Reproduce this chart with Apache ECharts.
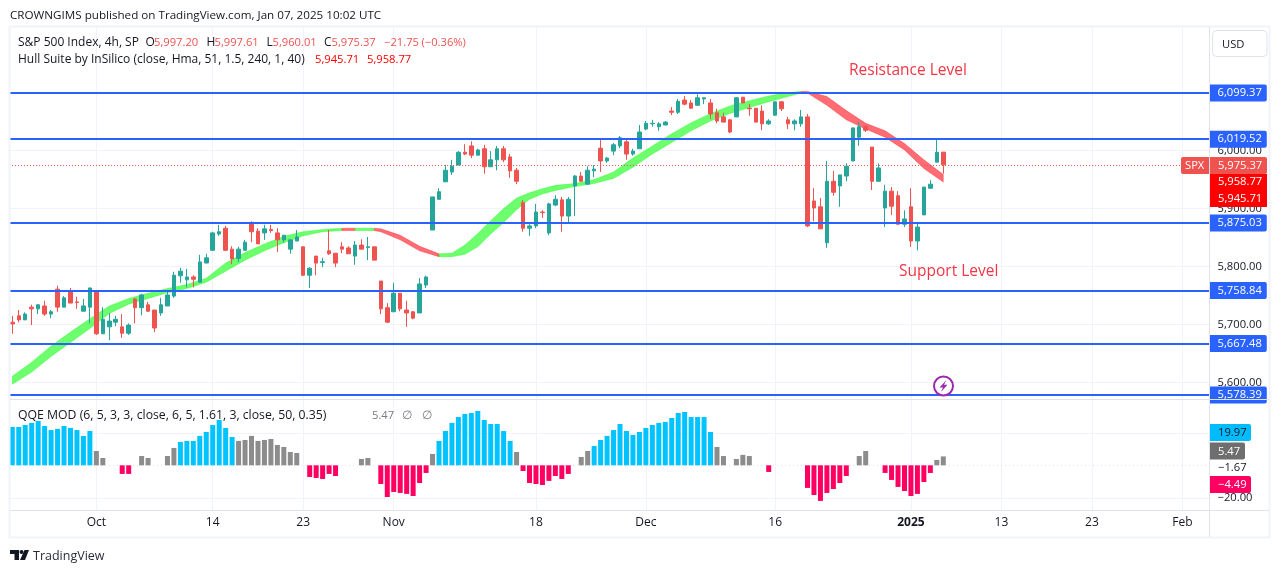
<!DOCTYPE html>
<html><head><meta charset="utf-8">
<script src="https://cdn.jsdelivr.net/npm/echarts@6/dist/echarts.min.js"></script>
<style>html,body{margin:0;padding:0;background:#fff}#c{width:1281px;height:573px}</style>
</head><body><div id="c"></div>
<script>
const open=[5704,5715,5708,5730,5727,5732,5718,5761,5730,5758,5739,5723,5730,5756,5684,5696,5704,5696,5685,5744,5729,5734,5725,5720,5732,5749,5784,5777,5782,5773,5806,5828,5856,5866,5830,5814,5828,5875,5861,5858,5864,5858,5846,5830,5844,5834,5785,5818,5807,5827,5823,5834,5832,5818,5837,5833,5834,5775,5729,5722,5754,5725,5722,5720,5768,5863,5916,5946,5963,5975,5997,6008,5992,6003,5972,5984,6003,5989,5966,5910,5866,5870,5894,5858,5906,5915,5887,5939,5956,5942,5965,6004,5982,5999,6008,6015,5994,6003,6037,6046,6041,6044,6068,6066,6087,6082,6078,6089,6082,6065,6058,6053,6058,6092,6073,6073,6068,6046,6061,6084,6053,6046,6046,6058,5913,5903,5841,5947,5939,5956,5982,6023,6041,6006,5947,5901,5930,5922,5873,5903,5844,5889,5935,5980,5997.2];
const high=[5715,5725,5721,5734,5735,5741,5725,5767,5749,5763,5748,5744,5764,5756,5730,5720,5715,5718,5702,5746,5753,5739,5725,5746,5759,5791,5798,5796,5785,5820,5822,5860,5872,5870,5835,5834,5846,5878,5866,5872,5872,5866,5854,5846,5863,5835,5799,5818,5815,5863,5823,5842,5835,5844,5847,5851,5834,5775,5737,5772,5754,5741,5723,5780,5784,5920,5935,5975,5984,5999,6011,6016,6003,6010,5999,6008,6008,5994,5970,5915,5873,5908,5897,5910,5923,5920,5920,5958,5963,5973,5975,6020,5989,6013,6025,6018,6003,6044,6051,6053,6049,6051,6075,6089,6094,6087,6097,6091,6089,6072,6065,6054,6092,6092,6080,6073,6078,6054,6084,6085,6058,6054,6070,6063,5935,5918,5982,5965,5958,5978,6039,6049,6044,6006,5978,5941,5937,5930,5897,5935,5875,5937,5949,6020,5997.61];
const low=[5684,5704,5708,5699,5718,5715,5711,5722,5730,5737,5727,5723,5702,5682,5684,5673,5697,5677,5682,5702,5716,5722,5687,5715,5732,5746,5772,5764,5764,5773,5806,5828,5853,5827,5804,5808,5828,5842,5839,5846,5858,5825,5841,5822,5844,5784,5763,5785,5799,5820,5799,5823,5822,5803,5830,5811,5811,5718,5703,5722,5723,5696,5709,5720,5763,5863,5915,5946,5958,5975,5992,5987,5992,5960,5972,5966,5980,5953,5942,5860,5853,5866,5884,5854,5904,5860,5875,5887,5947,5942,5954,5963,5979,5992,6004,5984,5991,6003,6035,6041,6034,6044,6061,6063,6078,6072,6078,6080,6054,6047,6049,6030,6058,6082,6060,6049,6035,6044,6060,6068,6037,6035,6041,5868,5878,5865,5832,5922,5903,5947,5982,6008,6032,5932,5947,5868,5889,5872,5868,5834,5828,5889,5934,5980,5960.01];
const close=[5701,5708,5718,5727,5734,5718,5722,5730,5746,5737,5738,5732,5763,5684,5709,5706,5709,5685,5699,5729,5751,5723,5694,5734,5751,5785,5792,5782,5778,5808,5815,5858,5860,5828,5813,5830,5842,5860,5839,5865,5862,5846,5854,5846,5851,5785,5797,5806,5808.4,5822,5806,5830,5822,5837,5830,5834,5811,5727,5704,5754,5727,5720,5711,5770,5782,5920,5929,5966,5973,5997,5994,5992,6001,5972,5984,6003,5984,5965,5947,5866,5870,5894,5893,5908,5916,5887,5916,5956,5947,5966,5968,5982,5987,6010,6022,5994,5999,6032,6047,6047,6046,6049,6066,6085,6080,6073,6091,6091,6063,6051,6049,6032,6091,6082,6072,6049,6046,6051,6084,6072,6046,6051,6058,5870,5901,5865,5947,5928,5958,5973,6039,6041,6035,5947,5970,5930,5904,5873,5882,5844,5868,5937,5942,5997,5975.37];

const levels=[6099.37,6019.52,5875.03,5758.84,5667.48,5578.39];
const lastPrice=5975.37;
const priceTicks=[5600,5700,5800,5900,6000];
const qqeTicks=[-20,20];

const hullIndex=[-0.36,0,3,6,9,12,15,18,21,24,27,30,33,36,39,42,45,48,51,53,56,57,60,63,66,68,70,72,74,76,78,80,82,84,87,90,93,96,99,102,105,108,111,114,117,120,122,123,126,129,132,135,138,141,144];
const hullUpper=[5610,5611,5635,5663,5687,5710,5732,5745,5754,5762,5769,5780,5806,5824,5839,5852,5860,5864,5866,5866,5866,5865,5854,5835,5822,5823,5837,5857,5879,5900,5918,5927,5934,5940,5943,5950,5963,5987,6008,6029,6048,6064,6077,6086,6094,6100,6102,6102,6093,6069,6047,6034,6012,5984,5958.77];
const hullLower=[5597,5597,5618,5645,5669,5693,5719,5735,5745,5755,5762,5773,5792,5811,5827,5841,5853,5860,5862,5862,5862,5860,5846,5827,5817,5817,5821,5834,5856,5876,5898,5916,5925,5931,5938,5943,5952,5971,5994,6014,6034,6051,6064,6074,6084,6093,6099,6099,6078,6053,6037,6023,6001,5969,5945.71];
const hullFalling=[[51,53],[56,66],[122,144]];

const qqeValues=[23.6,23.6,24.8,26.1,27.3,24.2,21.7,22.4,24.2,23.0,21.7,18.1,21.1,8.8,4.5,null,null,-5.3,-5.3,null,5.7,4.5,null,null,5.7,10.7,14.4,15.0,15.0,18.1,20.5,24.8,27.9,23.0,17.4,15.0,15.6,18.1,15.0,15.6,16.2,12.5,11.3,8.2,7.6,null,-7.2,-7.8,-8.4,-5.3,-6.6,null,null,null,3.9,4.5,null,-11.5,-19.5,-16.4,-17.0,-17.6,-18.9,-10.9,-4.7,7.0,15.0,21.1,26.1,29.7,31.6,32.2,33.4,27.9,25.4,25.4,21.1,15.0,8.2,-3.5,-10.9,-11.5,-12.1,-9.6,-6.6,-8.4,-5.3,null,5.1,8.8,11.9,15.6,18.1,21.7,25.4,21.1,18.7,20.5,23.0,24.8,26.1,26.7,29.1,32.2,32.8,29.7,29.7,29.7,20.5,11.3,5.7,null,3.9,6.4,5.7,null,null,-4.1,null,null,null,null,null,-13.9,-18.3,-21.9,-17.0,-14.6,-10.9,-6.6,null,5.7,8.8,null,null,-4.7,-9.0,-13.3,-15.8,-18.9,-17.6,-10.3,-4.7,3.3,5.47];
const qqeBlueRuns=[[0,12],[26,34],[66,77],[90,108]];

const barSlots=186;
const timeTickIndex=[13,31,45,59,81,98,118,139,153,167,181];
const timeTickLabels=['Oct','14','23','Nov','18','Dec','16','2025','13','23','Feb'];
const categories=Array.from({length:barSlots},(_,i)=>{const k=timeTickIndex.indexOf(i);return k<0?'':timeTickLabels[k];});

const FONT='"Open Sans","Noto Sans",sans-serif';
const INK='#131722', DOWN='#ef5350', UP='#26a69a', BLUE='#2962ff';
const NUM=11.2;
const fmt=v=>{const s=Math.abs(v).toLocaleString('en-US',{minimumFractionDigits:2,maximumFractionDigits:2});return (v<0?'\u2212':'')+s;};

const L=9.07, W=1202.5;
const chart=echarts.init(document.getElementById('c'),null,{renderer:'canvas'});
const hullLastUp=hullUpper[hullUpper.length-1], hullLastLo=hullLower[hullLower.length-1];

function txt(text,x,y,opt){opt=opt||{};return {type:'text',z:100,x:x,y:y+1,style:{text:text,font:(opt.weight||'normal')+' '+(opt.size||12)+'px '+FONT,fill:opt.fill||INK,textAlign:opt.align||'left',textVerticalAlign:'middle'}};}
function tag(text,x,y,w,h,bg,fg,tx){return [{type:'rect',z:99,shape:{x:x,y:y,width:w,height:h,r:[0,2,2,0]},style:{fill:bg}},txt(text,tx,y+h/2-0.5,{fill:fg,size:NUM})];}
function rect(x,y,w,h,fill,z){return {type:'rect',z:z||98,shape:{x:x,y:y,width:w,height:h},style:{fill:fill}};}

const gridLineColor='#f0f3fa';
const graphics=[
  txt('CROWNGIMS published on TradingView.com, Jan 07, 2025 10:02 UTC',10,14.5,{size:11.65}),
  rect(9,25.5,1261,2,'#f0f3fa'),rect(8.5,26,2,512,'#f0f3fa'),rect(1268.5,26,2,512,'#f0f3fa'),rect(9,536.5,1261,2,'#f0f3fa'),
  rect(1209,27,1,510,'#e0e3eb'),rect(10,399,1259,1,'#e0e3eb'),rect(10,510,1259,1,'#e0e3eb'),
  txt('S&P 500 Index, 4h, SP',18,41.5),
  txt('O',145.5,41.5),txt(fmt(open[144]),154,41.5,{fill:DOWN,size:NUM}),
  txt('H',206.5,41.5),txt(fmt(high[144]),214.5,41.5,{fill:DOWN,size:NUM}),
  txt('L',266.5,41.5),txt(fmt(low[144]),272.5,41.5,{fill:DOWN,size:NUM}),
  txt('C',324,41.5),txt(fmt(close[144]),331.5,41.5,{fill:DOWN,size:NUM}),
  txt('\u221221.75',384,41.5,{fill:DOWN,size:NUM}),txt('(\u22120.36%)',421.5,41.5,{fill:DOWN,size:NUM}),
  txt('Hull Suite by InSilico (close, Hma, 51, 1.5, 240, 1, 40)',18,58.5),
  txt(fmt(hullLastLo),315,58.5,{fill:'#ff0000',size:NUM}),txt(fmt(hullLastUp),367,58.5,{fill:'#ff0000',size:NUM}),
  txt('Resistance Level',849,70,{size:15.5,fill:'#f23645'}),
  txt('Support Level',899,271,{size:15.5,fill:'#f23645'}),
  txt('QQE MOD (6, 5, 3, 3, close, 6, 5, 1.61, 3, close, 50, 0.35)',18,414.5,{size:12.25}),
  txt('5.47',372,414.5,{fill:'#787b86',size:NUM}),txt('\u2205',402,414.5,{fill:'#787b86'}),txt('\u2205',422,414.5,{fill:'#787b86'}),
  {type:'rect',z:100,shape:{x:1212.5,y:30.5,width:54.5,height:26,r:4},style:{fill:'#fff',stroke:'#e0e3eb',lineWidth:1}},
  txt('USD',1222,43.5,{size:NUM}),
  {type:'rect',z:99,shape:{x:1181,y:157,width:28,height:17,r:[2,0,0,2]},style:{fill:DOWN}},
  txt('SPX',1185,165,{fill:'#fff',size:NUM}),
  ...tag(fmt(lastPrice),1210,157,57,17,DOWN,'#fff',1218),
  rect(1210,174,57,33,'#ff0000',99),
  txt(fmt(hullLastUp),1218,181,{fill:'#fff',size:NUM}),txt(fmt(hullLastLo),1218,198,{fill:'#fff',size:NUM}),
  ...tag('19.97',1210,424,41,17,'#00bcff','#131722',1218),
  ...tag('5.47',1210,442.5,35,17,'#6e6e6e','#fff',1218),
  ...tag('\u22124.49',1210,476,41,17,'#ff0062','#fff',1218),
  txt('\u22121.67',1218,467,{size:NUM}),
  {type:'circle',z:100,shape:{cx:943.5,cy:386,r:9.5},style:{fill:'#fff',stroke:'#9c27b0',lineWidth:2}},
  {type:'polygon',z:101,shape:{points:[[946.5,380],[939.5,387.5],[943,387.5],[941,392],[947.5,384.8],[944,384.8]]},style:{fill:'#9c27b0'}},
  {type:'polygon',z:100,shape:{points:[[10,550],[19,550],[19,560],[14.5,560],[14.5,554],[10,554]]},style:{fill:'#131722'}},
  {type:'circle',z:100,shape:{cx:21.5,cy:552,r:2},style:{fill:'#131722'}},
  {type:'polygon',z:100,shape:{points:[[24.5,550],[29,550],[25,560],[20,560]]},style:{fill:'#131722'}},
  txt('TradingView',33,555,{size:12.5,fill:'#2a2e39'})
];

function gridCarrier(xIdx,yIdx,horiz){
  return {type:'line',xAxisIndex:xIdx,yAxisIndex:yIdx,data:[],z:0,silent:true,
    markLine:{z:0,silent:true,symbol:'none',animation:false,label:{show:false},
      lineStyle:{color:gridLineColor,width:1,type:'solid'},
      data:[...timeTickIndex.map(i=>({xAxis:i})),...horiz.map(v=>({yAxis:v}))]}};
}

chart.setOption({
  animation:false,
  graphic:{elements:graphics},
  grid:[{left:L,width:W,top:27,height:372},{left:L,width:W,top:400,height:110}],
  xAxis:[
    {type:'category',gridIndex:0,data:categories,axisLine:{show:false},axisTick:{show:false},axisLabel:{show:false},splitLine:{show:false}},
    {type:'category',gridIndex:1,data:categories,axisLine:{show:false},axisTick:{show:false},splitLine:{show:false},
     axisLabel:{show:true,interval:(i)=>timeTickIndex.includes(i),color:INK,fontFamily:FONT,fontSize:12,margin:7,hideOverlap:false,
       formatter:v=>v==='2025'?'{b|2025}':v,rich:{b:{fontWeight:'bold',fontFamily:FONT,fontSize:12,color:INK}}}}
  ],
  yAxis:[
    {type:'value',gridIndex:0,position:'right',min:5571.6,max:6213,axisLine:{show:false},axisTick:{show:false},splitLine:{show:false},
     axisLabel:{show:true,customValues:priceTicks,color:INK,fontFamily:FONT,fontSize:NUM,margin:6,formatter:fmt}},
    {type:'value',gridIndex:1,position:'right',min:-27.5,max:40.18,axisLine:{show:false},axisTick:{show:false},splitLine:{show:false},
     axisLabel:{show:true,customValues:qqeTicks.filter(v=>v<0),color:INK,fontFamily:FONT,fontSize:NUM,margin:6,formatter:fmt}}
  ],
  series:[
    gridCarrier(0,0,priceTicks),
    gridCarrier(1,1,qqeTicks),
    {type:'custom',xAxisIndex:0,yAxisIndex:0,z:1,silent:true,clip:true,
     data:[[0,5800]],
     renderItem:(p,api)=>{
       const kids=[];
       const segs=[];
       for(let k=0;k<hullIndex.length-1;k++){
         const i=hullIndex[k],j=hullIndex[k+1];
         const fall=hullFalling.some(r=>i>=r[0]&&j<=r[1]);
         if(segs.length&&segs[segs.length-1].fall===fall)segs[segs.length-1].to=k+1;
         else segs.push({from:k,to:k+1,fall:fall});
       }
       segs.forEach(s=>{
         const top=[],bot=[];
         for(let k=s.from;k<=s.to;k++){top.push(api.coord([hullIndex[k],hullUpper[k]]));bot.unshift(api.coord([hullIndex[k],hullLower[k]]));}
         kids.push({type:'polygon',shape:{points:top.concat(bot)},style:{fill:s.fall?'rgba(255,20,30,0.62)':'rgba(20,255,20,0.62)',stroke:s.fall?'rgba(255,20,30,0.35)':'rgba(20,255,20,0.35)',lineWidth:1,lineJoin:'round'}});
       });
       return {type:'group',children:kids};
     }},
    {type:'candlestick',xAxisIndex:0,yAxisIndex:0,z:3,barWidth:4,
     data:open.map((o,i)=>[o,close[i],low[i],high[i]]),
     itemStyle:{color:UP,color0:DOWN,borderColor:UP,borderColor0:DOWN,borderWidth:1},
     markLine:{z:6,silent:true,symbol:'none',animation:false,
       data:levels.map(v=>({yAxis:v,lineStyle:{color:BLUE,width:2,type:'solid'},
          label:{show:true,position:'end',distance:-2,formatter:()=>fmt(v),color:'#fff',fontFamily:FONT,fontSize:NUM,lineHeight:13,
            backgroundColor:BLUE,padding:[2,5,2,8],borderRadius:[0,2,2,0],align:'left'}}))
         .concat([{yAxis:lastPrice,lineStyle:{color:DOWN,width:1,type:[1,2]},label:{show:false}}])}},
    {type:'bar',xAxisIndex:1,yAxisIndex:1,barWidth:5,z:3,silent:true,
     data:qqeValues.map((v,i)=>({value:v,itemStyle:{color:v<0?'#ff0062':(qqeBlueRuns.some(r=>i>=r[0]&&i<=r[1])?'#00c3ff':'#8c8c8c')}})),
     markLine:{z:2,silent:true,symbol:'none',animation:false,label:{show:false},lineStyle:{color:'#e0e3eb',width:1,type:[1,3]},data:[{yAxis:0}]}}
  ]
});
</script></body></html>
